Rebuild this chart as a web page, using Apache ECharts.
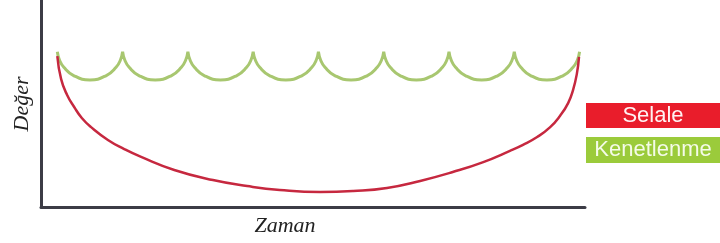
<!DOCTYPE html>
<html>
<head>
<meta charset="utf-8">
<script src="https://cdn.jsdelivr.net/npm/echarts@6/dist/echarts.min.js"></script>
<style>html,body{margin:0;padding:0;background:#fff}#c{width:720px;height:243px}</style>
</head>
<body>
<div id="c"></div>
<script>
// Series names / legend labels
const seriesNames = ['Selale', 'Kenetlenme'];
const axisNames = { x: 'Zaman', y: 'Değer' };

// Selale (red, one deep bowl)
const selaleX = [3, 3.7, 4.8, 6.1, 7.5, 9.2, 12.3, 15.3, 18.4, 24.5, 31.6, 37.9, 43.9, 51.3, 57.4, 63.6, 69.7, 75.7, 81.3, 86.2, 88.6, 91.2, 93.6, 95.4, 96.9, 97.8, 98.5, 98.9];
const selaleY = [72.9, 61.8, 54.1, 48.3, 43.0, 38.6, 32.4, 28.0, 24.2, 17.9, 13.0, 10.1, 8.2, 7.2, 7.7, 9.2, 12.6, 16.9, 21.7, 27.1, 30.0, 33.8, 38.6, 44.0, 50.2, 56.5, 64.3, 72.5];

// Kenetlenme (green, repeated scallops) - each arc read separately
const kenetlenmeArcs = [
  [[3,75],[3.4,71],[4.2,67.5],[6,63.5],[9,61.4],[12,63.5],[13.8,67.5],[14.6,71],[15,75]],
  [[15,75],[15.4,71],[16.2,67.5],[18,63.5],[21,61.4],[24,63.5],[25.8,67.5],[26.6,71],[27,75]],
  [[27,75],[27.4,71],[28.2,67.5],[30,63.5],[33,61.4],[36,63.5],[37.8,67.5],[38.6,71],[39,75]],
  [[39,75],[39.4,71],[40.2,67.5],[42,63.5],[45,61.4],[48,63.5],[49.8,67.5],[50.6,71],[51,75]],
  [[51,75],[51.4,71],[52.2,67.5],[54,63.5],[57,61.4],[60,63.5],[61.8,67.5],[62.6,71],[63,75]],
  [[63,75],[63.4,71],[64.2,67.5],[66,63.5],[69,61.4],[72,63.5],[73.8,67.5],[74.6,71],[75,75]],
  [[75,75],[75.4,71],[76.2,67.5],[78,63.5],[81,61.4],[84,63.5],[85.8,67.5],[86.6,71],[87,75]],
  [[87,75],[87.4,71],[88.2,67.5],[90,63.5],[93,61.4],[96,63.5],[97.8,67.5],[98.6,71],[99,75]]
];

const selaleData = selaleX.map((x, i) => [x, selaleY[i]]);
const kenetlenmeData = [];
kenetlenmeArcs.forEach((arc, i) => {
  if (i > 0) kenetlenmeData.push([arc[0][0], '-']);
  arc.forEach(p => kenetlenmeData.push(p));
});

const chart = echarts.init(document.getElementById('c'), null, { renderer: 'canvas' });
const axisLine = { show: true, lineStyle: { color: '#3c3c46', width: 3 } };
chart.setOption({
  animation: false,
  grid: { left: 41, right: 135, top: 0, bottom: 36 },
  xAxis: {
    type: 'value', min: 0, max: 100,
    axisLine: axisLine, axisTick: { show: false }, axisLabel: { show: false }, splitLine: { show: false }
  },
  yAxis: {
    type: 'value', min: 0, max: 100,
    axisLine: axisLine, axisTick: { show: false }, axisLabel: { show: false }, splitLine: { show: false }
  },
  series: [
    {
      name: seriesNames[1], type: 'line', data: kenetlenmeData, smooth: 0.5,
      showSymbol: false, connectNulls: false,
      lineStyle: { color: '#a8c770', width: 3 }, z: 2
    },
    {
      name: seriesNames[0], type: 'line', data: selaleData, smooth: 0.5,
      showSymbol: false,
      lineStyle: { color: '#c6283f', width: 2.5 }, z: 3
    }
  ],
  graphic: [
    { type: 'text', x: 22, y: 104, rotation: Math.PI / 2,
      style: { text: axisNames.y, font: 'italic 22px "Liberation Serif"', fill: '#222', align: 'center', verticalAlign: 'middle' } },
    { type: 'text', x: 285, y: 226,
      style: { text: axisNames.x, font: 'italic 22px "Liberation Serif"', fill: '#222', align: 'center', verticalAlign: 'middle' } },
    { type: 'rect', shape: { x: 586, y: 103, width: 140, height: 25 }, style: { fill: '#e91d2b' } },
    { type: 'text', x: 653, y: 116,
      style: { text: seriesNames[0], font: '22px "Liberation Sans"', fill: '#fff2f2', align: 'center', verticalAlign: 'middle' } },
    { type: 'rect', shape: { x: 586, y: 137, width: 140, height: 26 }, style: { fill: '#9bcb3b' } },
    { type: 'text', x: 653, y: 150,
      style: { text: seriesNames[1], font: '22px "Liberation Sans"', fill: '#f4fbe8', align: 'center', verticalAlign: 'middle' } }
  ]
});
</script>
</body>
</html>
